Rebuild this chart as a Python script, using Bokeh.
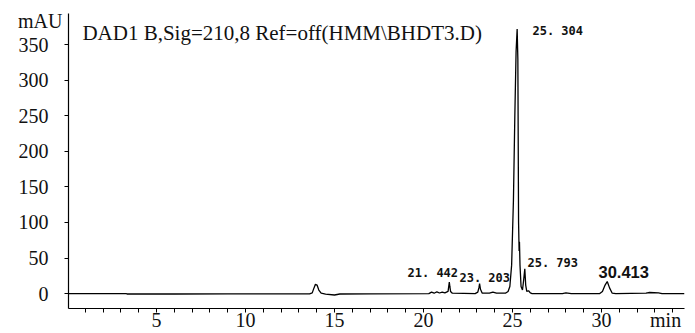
from bokeh.plotting import figure
from bokeh.models import FixedTicker, Label, Range1d, ColumnDataSource
from bokeh.core.properties import value
from bokeh.embed import file_html
from bokeh.resources import INLINE

# Chromatogram trace (time in min, signal in mAU)
time_min = [0.06, 3.3, 3.35, 6.0, 9.0, 13.6, 13.75, 13.85, 13.93, 14.02, 14.12, 14.25,
            14.5, 15.0, 15.3, 17.0, 20.3, 20.45, 20.6, 20.75, 20.9, 21.05, 21.2,
            21.38, 21.45, 21.48, 21.52, 21.62, 22.9, 23.05, 23.12, 23.15, 23.2,
            23.3, 23.7, 23.9, 24.1, 24.6, 24.75, 24.85, 24.95, 25.05, 25.13,
            25.20, 25.26, 25.30, 25.34, 25.37, 25.39, 25.42, 25.48, 25.56, 25.63,
            25.69, 25.74, 25.8, 25.9, 26.0, 26.1, 27.8, 28.0, 28.3, 29.9, 30.05,
            30.2, 30.32, 30.45, 30.6, 30.8, 32.5, 32.7, 33.2, 33.4, 34.66]
signal_mau = [0.0, 0.0, -0.6, -0.6, -0.4, -0.3, 1.0, 8.0, 13.0, 12.0, 5.0, 0.5,
              -0.8, -2.0, -0.6, -0.5, 0.0, 2.0, 0.5, 2.5, 0.8, 2.0, 1.0,
              3.0, 16.0, 10.0, 3.0, 0.5, 0.0, 2.0, 9.0, 14.0, 6.0,
              0.5, 0.5, 2.0, 0.5, 0.5, 3.0, 10.0, 40.0, 130.0, 250.0,
              340.0, 372.0, 330.0, 100.0, 60.0, 73.0, 40.0, 10.0, 5.0, 20.0,
              35.0, 12.0, 3.0, 4.0, 1.0, 0.0, 0.0, 1.0, 0.0, 0.0, 3.0,
              12.0, 17.0, 8.0, 0.5, 0.0, 0.5, 1.5, 1.0, 0.0, 0.0]

# Peak annotations
peak_labels = ["21. 442", "23. 203", "25. 304", "25. 793"]
peak_label_x = [19.1, 22.02, 26.12, 25.84]
peak_label_y = [29.6, 22.5, 369.0, 43.7]
peak_label_big = "30.413"
peak_label_big_xy = (29.83, 31.0)

x_major = [5, 10, 15, 20, 25, 30]
x_minor = list(range(1, 35))
x_unit_pos = 33.6
y_major = [0, 50, 100, 150, 200, 250, 300, 350]
y_unit_pos = 384

title_text = "DAD1 B,Sig=210,8 Ref=off(HMM\\BHDT3.D)"

X0, X1 = 0.06, 34.66
Y0, Y1 = -21.0, 394.0

p = figure(width=695, height=333, output_backend="svg", toolbar_location=None,
           x_range=Range1d(X0, X1), y_range=Range1d(Y0, Y1),
           min_border_left=68, min_border_right=11, min_border_top=13, min_border_bottom=22)
p.outline_line_color = None
p.xgrid.visible = False
p.ygrid.visible = False
p.background_fill_color = "white"
p.border_fill_color = "white"

serif = "Liberation Serif"

p.xaxis.axis_line_color = "black"
p.yaxis.axis_line_color = "black"
p.xaxis.axis_line_width = 1.2
p.yaxis.axis_line_width = 1.2
p.xaxis.minor_tick_line_color = "black"
p.yaxis.minor_tick_line_color = "black"
p.xaxis.major_label_text_font = serif
p.yaxis.major_label_text_font = serif
p.xaxis.major_label_text_font_size = "20px"
p.yaxis.major_label_text_font_size = "20px"
p.xaxis.major_label_text_color = "#111111"
p.yaxis.major_label_text_color = "#111111"

# x: tick marks drawn as minor ticks; major ticks only carry labels (incl. unit "min")
p.xaxis.ticker = FixedTicker(ticks=x_major + [x_unit_pos], minor_ticks=x_minor)
p.xaxis.major_label_overrides = {x_unit_pos: "min"}
p.xaxis.major_tick_line_color = None
p.xaxis.major_tick_in = 0
p.xaxis.major_tick_out = 4
p.xaxis.minor_tick_in = 0
p.xaxis.minor_tick_out = 4
p.xaxis.major_label_standoff = -4

# y: tick marks drawn as minor ticks at the labelled values; unit "mAU" as top label
pad = "\u2002\u2009"
p.yaxis.ticker = FixedTicker(ticks=y_major + [y_unit_pos], minor_ticks=y_major)
y_over = {v: f"{v}{pad}" for v in y_major}
y_over[y_unit_pos] = "mAU"
p.yaxis.major_label_overrides = y_over
p.yaxis.major_tick_line_color = None
p.yaxis.major_tick_in = 0
p.yaxis.major_tick_out = 4
p.yaxis.minor_tick_in = 0
p.yaxis.minor_tick_out = 4
p.yaxis.major_label_standoff = 2

src = ColumnDataSource(dict(t=time_min, s=signal_mau))
p.line("t", "s", source=src, line_color="black", line_width=1.3)

lab_src = ColumnDataSource(dict(x=peak_label_x, y=peak_label_y, txt=peak_labels))
p.text("x", "y", text="txt", source=lab_src, text_font=value("DejaVu Sans Mono"),
       text_font_style="bold", text_font_size="12px", text_baseline="middle",
       text_align="left", text_color="#111111")
p.text(x=[peak_label_big_xy[0]], y=[peak_label_big_xy[1]], text=[peak_label_big],
       text_font=value("Liberation Sans"), text_font_style="bold", text_font_size="16.5px",
       text_baseline="middle", text_align="left", text_color="#111111")

p.add_layout(Label(x=0.84, y=Y1, y_offset=-19, text=title_text,
                   text_font=serif, text_font_size="21px", text_baseline="middle",
                   text_align="left", text_color="#111111"))

open("out.html", "w").write(file_html(p, INLINE))
